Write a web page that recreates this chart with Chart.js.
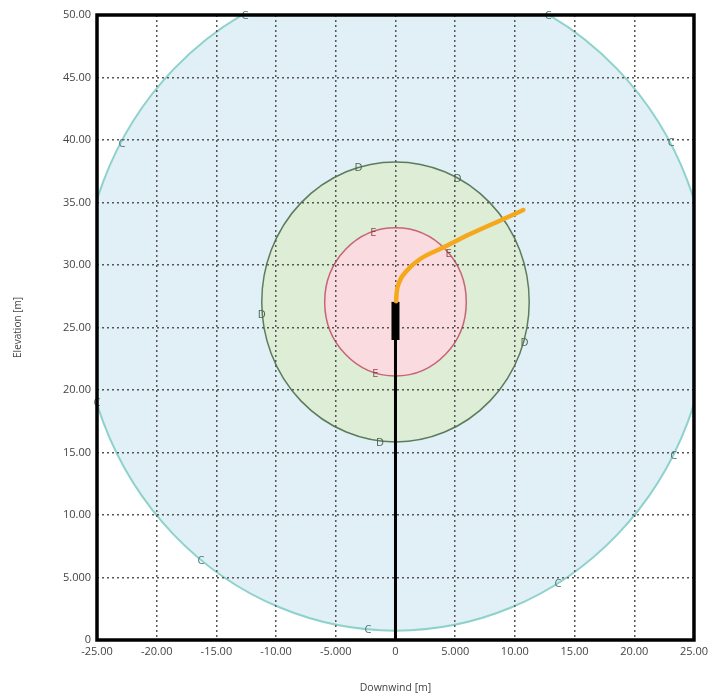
<!DOCTYPE html>
<html>
<head>
<meta charset="utf-8">
<script src="https://cdn.jsdelivr.net/npm/chart.js@4/dist/chart.umd.min.js"></script>
<style>
html,body{margin:0;padding:0;background:#fff;}
#c{display:block;}
</style>
</head>
<body>
<canvas id="c" width="713" height="695"></canvas>
<script>
// Axis ticks
const xTickValues = [-25,-20,-15,-10,-5,0,5,10,15,20,25];
const xTickLabels = ["-25.00","-20.00","-15.00","-10.00","-5.000","0","5.000","10.00","15.00","20.00","25.00"];
const yTickValues = [0,5,10,15,20,25,30,35,40,45,50];
const yTickLabels = ["0","5.000","10.00","15.00","20.00","25.00","30.00","35.00","40.00","45.00","50.00"];

// Concentration zones (circles, data units): name, centre x, centre y, radius
const zoneNames = ["C","D","E"];
const zoneCenterX = [0, 0, 0];
const zoneCenterY = [27.05, 27.05, 27.05];
const zoneRadius = [26.3, 11.2, 5.93];

// Zone label positions
const cLabelX = [-12.6, 12.8, -22.9, 23.1, -25.0, 23.3, -16.3, 13.6, -2.3];
const cLabelY = [49.9, 49.9, 39.7, 39.8, 19.0, 14.7, 6.3, 4.5, 0.8];
const dLabelX = [-3.1, 5.2, 10.8, -11.2, -1.3];
const dLabelY = [37.8, 36.9, 23.8, 26.0, 15.8];
const eLabelX = [-1.85, 4.45, -1.7];
const eLabelY = [32.6, 30.9, 21.3];

// Stack (thin pole + thick top section)
const poleX = [0, 0];
const poleY = [0, 24.0];
const stackX = [0, 0];
const stackY = [24.0, 27.05];

// Plume centreline
const plumeX = [0.05, 0.1, 0.3, 1.0, 2.1, 4.0, 6.3, 9.1, 10.7];
const plumeY = [27.1, 27.8, 28.6, 29.6, 30.5, 31.4, 32.5, 33.7, 34.4];

const zoneFill = ["#e0f0f6", "#deedd6", "#fadbe0"];
const zoneStroke = ["#8ed2cb", "#5c7c5e", "#c86474"];
const zoneStrokeW = [2, 1.5, 1.5];
const zoneLabelColor = ["#4b767c", "#4f6450", "#8a4650"];

const toPts = (xs, ys) => xs.map((x, i) => ({x: x, y: ys[i]}));

const zonesPlugin = {
  id: 'zones',
  beforeDraw(chart) {
    const {ctx, chartArea: a, scales: {x, y}} = chart;
    ctx.save();
    ctx.fillStyle = '#fff';
    ctx.fillRect(0, 0, chart.width, chart.height);
    ctx.beginPath();
    ctx.rect(a.left, a.top, a.right - a.left, a.bottom - a.top);
    ctx.clip();
    for (let i = 0; i < zoneNames.length; i++) {
      const cx = x.getPixelForValue(zoneCenterX[i]);
      const cy = y.getPixelForValue(zoneCenterY[i]);
      const rx = Math.abs(x.getPixelForValue(zoneCenterX[i] + zoneRadius[i]) - cx);
      const ry = Math.abs(y.getPixelForValue(zoneCenterY[i] + zoneRadius[i]) - cy);
      ctx.beginPath();
      ctx.ellipse(cx, cy, rx, ry, 0, 0, Math.PI * 2);
      ctx.fillStyle = zoneFill[i];
      ctx.fill();
      ctx.lineWidth = zoneStrokeW[i];
      ctx.strokeStyle = zoneStroke[i];
      ctx.stroke();
    }
    ctx.restore();
  },
  afterDatasetsDraw(chart) {
    const {ctx, chartArea: a, scales: {x, y}} = chart;
    ctx.save();
    ctx.font = '11px "Open Sans", sans-serif';
    ctx.textAlign = 'center';
    ctx.textBaseline = 'middle';
    const sets = [[cLabelX, cLabelY], [dLabelX, dLabelY], [eLabelX, eLabelY]];
    sets.forEach((s, k) => {
      ctx.fillStyle = zoneLabelColor[k];
      s[0].forEach((vx, i) => {
        ctx.fillText(zoneNames[k], x.getPixelForValue(vx), y.getPixelForValue(s[1][i]));
      });
    });
    ctx.restore();
    ctx.save();
    ctx.lineWidth = 3.5;
    ctx.strokeStyle = '#000';
    ctx.strokeRect(a.left, a.top, a.right - a.left, a.bottom - a.top);
    ctx.restore();
  }
};

new Chart(document.getElementById('c'), {
  type: 'scatter',
  data: {
    datasets: [
      {data: toPts(poleX, poleY), showLine: true, borderColor: '#000', borderWidth: 3, pointRadius: 0, order: 3},
      {data: toPts(stackX, stackY), showLine: true, borderColor: '#000', borderWidth: 8, pointRadius: 0, borderCapStyle: 'butt', order: 2},
      {data: toPts(plumeX, plumeY), showLine: true, borderColor: '#f5a81c', borderWidth: 4.5, pointRadius: 0, tension: 0.4, cubicInterpolationMode: 'monotone', borderCapStyle: 'round', order: 1}
    ]
  },
  options: {
    responsive: false,
    animation: false,
    events: [],
    layout: {padding: {left: 0, top: 15, right: 19, bottom: 0}},
    plugins: {legend: {display: false}, tooltip: {enabled: false}},
    scales: {
      x: {
        type: 'linear', min: -25, max: 25,
        afterBuildTicks: s => { s.ticks = xTickValues.map(v => ({value: v})); },
        afterFit: s => { s.height = 55; },
        ticks: {
          autoSkip: false, maxRotation: 0, padding: 5,
          color: '#444', font: {family: '"Open Sans", sans-serif', size: 11},
          callback: v => xTickLabels[xTickValues.indexOf(v)]
        },
        grid: {color: '#555', lineWidth: 1.5, drawTicks: false},
        border: {display: false, dash: [2, 3]},
        title: {display: true, text: 'Downwind [m]', color: '#444', font: {family: '"Open Sans", sans-serif', size: 10.5}, padding: {top: 0, bottom: 1}}
      },
      y: {
        type: 'linear', min: 0, max: 50,
        afterBuildTicks: s => { s.ticks = yTickValues.map(v => ({value: v})); },
        afterFit: s => { s.width = 97; },
        ticks: {
          autoSkip: false, padding: 6,
          color: '#444', font: {family: '"Open Sans", sans-serif', size: 11},
          callback: v => yTickLabels[yTickValues.indexOf(v)]
        },
        grid: {color: '#555', lineWidth: 1.5, drawTicks: false},
        border: {display: false, dash: [2, 3]},
        title: {display: true, text: 'Elevation [m]', color: '#444', font: {family: '"Open Sans", sans-serif', size: 10}, padding: {top: 12, bottom: 0}}
      }
    }
  },
  plugins: [zonesPlugin]
});
</script>
</body>
</html>
